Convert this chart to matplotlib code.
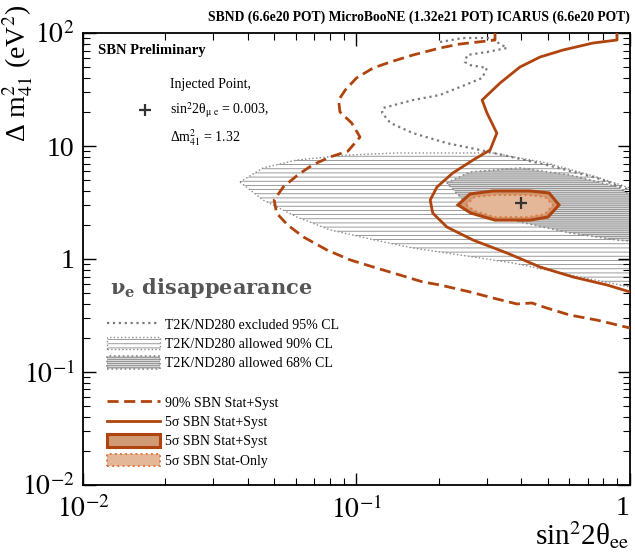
import matplotlib
matplotlib.use("Agg")
import matplotlib.pyplot as plt
from matplotlib.patches import Polygon, Patch
from matplotlib.lines import Line2D
import numpy as np

# ---------------- data ----------------
# SBN 90% Stat+Syst sensitivity (dashed)
sbn90_x = [0.321, 0.321, 0.300, 0.239, 0.202, 0.161, 0.133, 0.115, 0.100, 0.091, 0.086, 0.087,
           0.096, 0.103, 0.093, 0.080, 0.069, 0.061, 0.054, 0.050, 0.051, 0.056, 0.064, 0.078,
           0.095, 0.115, 0.144, 0.175, 0.202, 0.260, 0.315, 0.386, 0.438, 0.497, 0.603, 0.757, 1.0]
sbn90_y = [100, 86.7, 85.0, 79.9, 73.7, 63.9, 55.4, 49.0, 40.0, 31.3, 25.5, 20.0,
           16.0, 12.0, 9.0, 7.99, 6.79, 5.54, 4.34, 3.33, 2.55, 2.0, 1.566, 1.20,
           0.98, 0.85, 0.722, 0.626, 0.589, 0.511, 0.452, 0.40, 0.408, 0.368, 0.319, 0.288, 0.245]

# SBN 5 sigma Stat+Syst sensitivity (solid)
sbn5_x = [0.896, 0.896, 0.732, 0.569, 0.469, 0.396, 0.335, 0.288, 0.300, 0.326, 0.308, 0.267,
          0.225, 0.197, 0.186, 0.190, 0.214, 0.267, 0.355, 0.469, 0.619, 0.824, 1.0]
sbn5_y = [100, 86.7, 81.5, 70.7, 61.3, 50.0, 36.1, 25.5, 19.6, 13.0, 9.22, 7.52,
          5.77, 4.34, 3.33, 2.55, 1.92, 1.47, 1.13, 0.85, 0.693, 0.589, 0.511]

# T2K/ND280 excluded 95% CL (dotted)
t2kex_x = [0.202, 0.245, 0.308, 0.355, 0.300, 0.254, 0.249, 0.260, 0.300, 0.288, 0.260, 0.202,
           0.161, 0.125, 0.124, 0.133, 0.161, 0.214, 0.283, 0.343, 0.497, 0.757, 1.0]
t2kex_y = [83.2, 90.3, 90.3, 73.7, 67.9, 63.9, 55.4, 52.1, 49.0, 40.0, 36.1, 28.3,
           25.5, 21.7, 19.6, 16.0, 13.0, 10.6, 9.22, 8.32, 6.79, 5.21, 4.08]

# T2K/ND280 allowed 90% CL (hatched region)
t2k90_x = [0.0375, 0.0455, 0.0606, 0.0923, 0.1406, 0.214, 0.315, 0.497, 0.757, 1.0,
           1.0, 0.657, 0.373, 0.214, 0.161, 0.117, 0.080, 0.0606, 0.0455]
t2k90_y = [4.80, 6.39, 7.52, 8.32, 8.67, 8.67, 8.67, 7.07, 5.32, 4.25,
           0.565, 0.693, 0.922, 1.13, 1.25, 1.47, 1.81, 2.35, 3.33]

# T2K/ND280 allowed 68% CL (dense hatched region)
t2k68_x = [0.214, 0.260, 0.396, 0.603, 0.904, 1.0, 1.0, 0.904, 0.603, 0.396, 0.260]
t2k68_y = [4.70, 5.89, 6.39, 5.54, 4.34, 3.68, 1.44, 1.47, 1.70, 2.13, 2.88]

# SBN 5 sigma Stat+Syst allowed region (filled)
sbn5fill_x = [0.235, 0.260, 0.315, 0.431, 0.506, 0.550, 0.501, 0.431, 0.321, 0.262]
sbn5fill_y = [3.01, 3.76, 4.00, 4.00, 3.84, 3.01, 2.35, 2.21, 2.21, 2.55]

# SBN 5 sigma Stat-Only allowed region
sbnstat_x = [0.251, 0.271, 0.321, 0.424, 0.489, 0.523, 0.489, 0.424, 0.321, 0.271]
sbnstat_y = [3.01, 3.54, 3.68, 3.68, 3.54, 3.01, 2.50, 2.35, 2.35, 2.66]

# injected point
inj_x = [0.40]
inj_y = [3.1]

xticks = [1e-2, 1e-1, 1.0]
xticklabels = [r'$10^{-2}$', r'$10^{-1}$', '1']
yticks = [1e-2, 1e-1, 1.0, 10.0, 100.0]
yticklabels = [r'$10^{-2}$', r'$10^{-1}$', '1', '10', r'$10^{2}$']

legend1_labels = ['T2K/ND280 excluded 95% CL', 'T2K/ND280 allowed 90% CL', 'T2K/ND280 allowed 68% CL']
legend2_labels = ['90% SBN Stat+Syst', '5σ SBN Stat+Syst', '5σ SBN Stat+Syst', '5σ SBN Stat-Only']

# ---------------- styling ----------------
plt.rcParams['font.family'] = ['Liberation Serif', 'DejaVu Serif']
plt.rcParams['mathtext.fontset'] = 'stix'
plt.rcParams['hatch.linewidth'] = 0.6

BROWN = '#b0440e'
GRAY = '#7a7a7a'
TAN_OUT = '#cf9a74'
TAN_IN = '#e3b797'
ORANGE_DOT = '#e2773d'

fig = plt.figure(figsize=(6.35, 5.53), dpi=100)
ax = fig.add_axes([0.1307, 0.123, 0.8614, 0.8173])
ax.set_xscale('log')
ax.set_yscale('log')
ax.set_xlim(1e-2, 1)
ax.set_ylim(1e-2, 1e2)

# T2K regions
p90 = Polygon(np.column_stack([t2k90_x, t2k90_y]), closed=True, facecolor='white',
              edgecolor='#8a8a8a', hatch='----', linestyle=':', linewidth=1.0, zorder=1)
ax.add_patch(p90)
p68 = Polygon(np.column_stack([t2k68_x, t2k68_y]), closed=True, facecolor='#d9d9d9',
              edgecolor='#8a8a8a', hatch='--------', linestyle=':', linewidth=1.2, zorder=2)
ax.add_patch(p68)

# T2K excluded line
ax.plot(t2kex_x, t2kex_y, color=GRAY, linestyle=':', linewidth=1.6, zorder=3)

# SBN filled regions
pf = Polygon(np.column_stack([sbn5fill_x, sbn5fill_y]), closed=True, facecolor=TAN_OUT,
             edgecolor=BROWN, linewidth=2.2, zorder=4)
ax.add_patch(pf)
ps = Polygon(np.column_stack([sbnstat_x, sbnstat_y]), closed=True, facecolor=TAN_IN,
             edgecolor=ORANGE_DOT, linestyle=':', linewidth=1.4, zorder=5)
ax.add_patch(ps)

# SBN lines
ax.plot(sbn90_x, sbn90_y, color=BROWN, linestyle=(0, (4, 2)), linewidth=2.0, zorder=6)
ax.plot(sbn5_x, sbn5_y, color=BROWN, linestyle='-', linewidth=2.0, zorder=6)

# injected point
ax.plot(inj_x, inj_y, marker='+', color='#333333', markersize=9, mew=1.6, linestyle='none', zorder=7)

# ticks
ax.set_xticks(xticks)
ax.set_xticklabels(xticklabels)
ax.set_yticks(yticks)
ax.set_yticklabels(yticklabels)
ax.tick_params(which='both', direction='in', top=True, right=True)
ax.tick_params(which='major', length=9, width=1.0, labelsize=20, pad=6)
ax.tick_params(which='minor', length=5, width=0.8)
ax.tick_params(axis='x', which='major', pad=8)
ax.get_xticklabels()[-1].set_horizontalalignment('right')
for s in ax.spines.values():
    s.set_linewidth(1.3)

# axis titles (ROOT style: y title flush with the top, x title flush right)
fig.text(18 / 635, 1 - 5 / 553, r'Δ m$^{2}_{41}$ (eV$^{2}$)', fontsize=20, rotation=90,
         rotation_mode='anchor', ha='right', va='center')
ax.set_xlabel(r'sin$^{2}$2θ$_{\mathrm{ee}}$', fontsize=21)
ax.xaxis.set_label_coords(1.0, -0.076)
ax.xaxis.label.set_horizontalalignment('right')

# texts
fig.text(0.992, 0.969, 'SBND (6.6e20 POT) MicroBooNE (1.32e21 POT) ICARUS (6.6e20 POT)',
         ha='right', va='center', fontsize=9.8, fontweight='bold')
ax.text(0.027, 0.962, 'SBN Preliminary', transform=ax.transAxes, fontsize=10.5,
        fontweight='bold', ha='left', va='center')
ax.text(0.159, 0.885, 'Injected Point,', transform=ax.transAxes, fontsize=10, ha='left', va='center')
ax.text(0.159, 0.830, r'sin$^{2}$2θ$_{\mathrm{μ\ e}}$ = 0.003,', transform=ax.transAxes,
        fontsize=10, ha='left', va='center')
ax.text(0.159, 0.768, r'Δm$^{2}_{41}$ = 1.32', transform=ax.transAxes,
        fontsize=10, ha='left', va='center')
ax.plot([0.113], [0.830], transform=ax.transAxes, marker='+', color='#333333',
        markersize=8, mew=1.6, linestyle='none')
ax.text(0.05, 0.435, r'ν$_{\mathbf{e}}$ disappearance', transform=ax.transAxes,
        fontsize=15, fontweight='bold', color='#555555', ha='left', va='center',
        family='DejaVu Serif', math_fontfamily='dejavuserif')

# legends
h1 = [Line2D([], [], color=GRAY, linestyle=':', linewidth=1.6),
      Patch(facecolor='white', edgecolor='#8a8a8a', hatch='----', linestyle=':', linewidth=1.0),
      Patch(facecolor='#d9d9d9', edgecolor='#8a8a8a', hatch='--------', linestyle=':', linewidth=1.2)]
leg1 = ax.legend(h1, legend1_labels, loc='upper left', bbox_to_anchor=(0.044, 0.370),
                 frameon=False, fontsize=10, handlelength=3.8, handleheight=1.0,
                 labelspacing=0.38, handletextpad=0.4, borderpad=0, borderaxespad=0)
ax.add_artist(leg1)
h2 = [Line2D([], [], color=BROWN, linestyle=(0, (4, 2)), linewidth=2.0),
      Line2D([], [], color=BROWN, linestyle='-', linewidth=2.0),
      Patch(facecolor=TAN_OUT, edgecolor=BROWN, linewidth=2.2),
      Patch(facecolor=TAN_IN, edgecolor=ORANGE_DOT, linestyle=':', linewidth=1.4)]
ax.legend(h2, legend2_labels, loc='upper left', bbox_to_anchor=(0.044, 0.197),
          frameon=False, fontsize=10, handlelength=3.8, handleheight=1.0,
          labelspacing=0.38, handletextpad=0.4, borderpad=0, borderaxespad=0)

fig.savefig('out.png', dpi=100)
